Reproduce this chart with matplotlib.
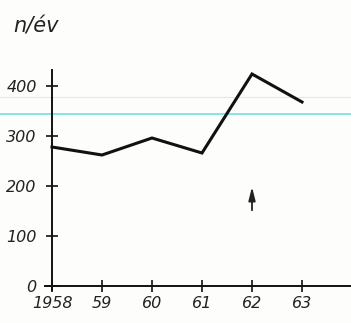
import matplotlib
matplotlib.use("Agg")
import matplotlib.pyplot as plt
from matplotlib.lines import Line2D

years = [1958, 1959, 1960, 1961, 1962, 1963]
values = [278, 262, 296, 266, 424, 368]
xtick_labels = ["1958", "59", "60", "61", "62", "63"]
yticks = [0, 100, 200, 300, 400]
ytick_labels = ["0", "100", "200", "300", "400"]
title = "n/év"

W, H = 351, 323
fig = plt.figure(figsize=(W / 100, H / 100), dpi=100, facecolor="#fdfdfb")

# scan artifact lines across the whole page (behind the chart)
fig.add_artist(Line2D([0, 1], [1 - 113.5 / H, 1 - 113.5 / H], transform=fig.transFigure,
                      color="#6ee3e0", lw=1.2, zorder=-1))
fig.add_artist(Line2D([0, 1], [1 - 97 / H, 1 - 97 / H], transform=fig.transFigure,
                      color="#f1e1ea", lw=0.8, zorder=-1))

ax = fig.add_axes([40 / W, 23 / H, 311 / W, 240 / H])
ax.set_facecolor("none")
ax.set_xlim(1957.76, 1963.98)
ax.set_ylim(-28, 452)

for s in ["top", "right"]:
    ax.spines[s].set_visible(False)
ax.spines["left"].set_position(("data", 1958))
ax.spines["bottom"].set_position(("data", 0))
ax.spines["left"].set_bounds(-8, 432)
ax.spines["bottom"].set_bounds(1957.86, 1963.98)
for s in ["left", "bottom"]:
    ax.spines[s].set_linewidth(1.4)
    ax.spines[s].set_color("#111111")

ax.plot(years, values, color="#111111", lw=2.2, solid_joinstyle="miter")

ax.set_xticks(years)
ax.set_xticklabels(xtick_labels)
ax.set_yticks(yticks)
ax.set_yticklabels(ytick_labels)
ax.tick_params(direction="inout", length=8, width=1.2, color="#111111",
               labelsize=11.5, labelcolor="#222222")
ax.tick_params(axis="y", pad=7)
ax.tick_params(axis="x", pad=3)
for lab in ax.get_xticklabels() + ax.get_yticklabels():
    lab.set_fontstyle("italic")

ax.annotate("", xy=(1962, 204), xytext=(1962, 146),
            arrowprops=dict(arrowstyle="-|>,head_length=0.8,head_width=0.2",
                            color="#222222", lw=1.3))

fig.text(13 / W, 1 - 33 / H, title, fontsize=15, fontstyle="italic", color="#222222")

fig.savefig("out.png", dpi=100, facecolor=fig.get_facecolor())
